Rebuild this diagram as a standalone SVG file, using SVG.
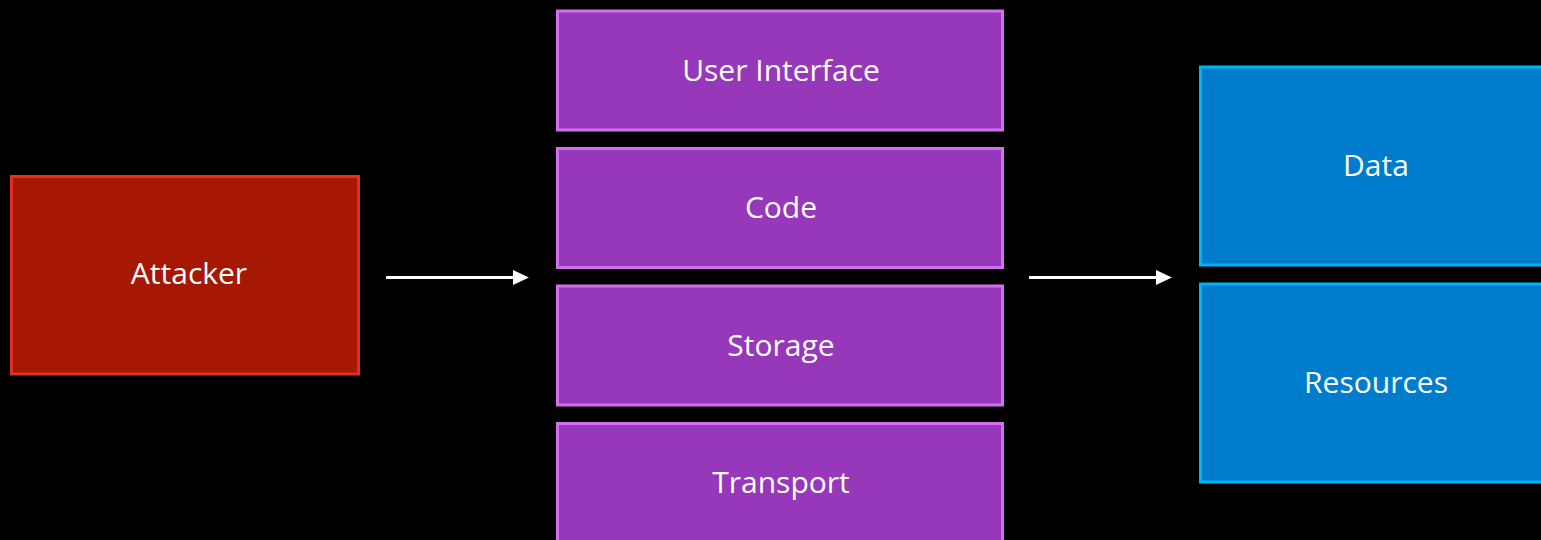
<svg xmlns="http://www.w3.org/2000/svg" width="1541" height="540" viewBox="0 0 1541 540">
  <defs>
    <style>
      .label { font-family: "Open Sans", "Noto Sans", sans-serif; font-size: 30px; fill: #ffffff; text-anchor: middle; }
      .attacker { fill: #a61803; stroke: #e0301f; stroke-width: 3; }
      .layer { fill: #9638b9; stroke: #d070ec; stroke-width: 3; }
      .asset { fill: #007ccc; stroke: #00b4f4; stroke-width: 3; }
      .link { stroke: #ffffff; stroke-width: 3; fill: none; }
    </style>
    <marker id="arrowhead" markerWidth="6" markerHeight="6" refX="0" refY="2.5" orient="auto" markerUnits="strokeWidth">
      <path d="M0,0 L5.3,2.5 L0,5 Z" fill="#ffffff"/>
    </marker>
  </defs>
  <rect width="1541" height="540" fill="#000000"/>

  <g id="attacker">
    <rect class="attacker" x="11.5" y="176.5" width="347" height="197.5"/>
    <text class="label" x="189" y="284">Attacker</text>
  </g>

  <g id="user-interface">
    <rect class="layer" x="557.5" y="11" width="445" height="119"/>
    <text class="label" x="781" y="80.5">User Interface</text>
  </g>
  <g id="code">
    <rect class="layer" x="557.5" y="148.5" width="445" height="119"/>
    <text class="label" x="781" y="218">Code</text>
  </g>
  <g id="storage">
    <rect class="layer" x="557.5" y="286" width="445" height="119"/>
    <text class="label" x="781" y="355.5">Storage</text>
  </g>
  <g id="transport">
    <rect class="layer" x="557.5" y="423.5" width="445" height="119"/>
    <text class="label" x="781" y="493">Transport</text>
  </g>

  <g id="data">
    <rect class="asset" x="1200.5" y="67" width="360" height="198"/>
    <text class="label" x="1376" y="175.5">Data</text>
  </g>
  <g id="resources">
    <rect class="asset" x="1200.5" y="284" width="360" height="198"/>
    <text class="label" x="1376" y="393">Resources</text>
  </g>

  <g id="connectors">
    <line class="link" x1="386" y1="277.5" x2="513" y2="277.5" marker-end="url(#arrowhead)"/>
    <line class="link" x1="1029" y1="277.5" x2="1156" y2="277.5" marker-end="url(#arrowhead)"/>
  </g>
</svg>
